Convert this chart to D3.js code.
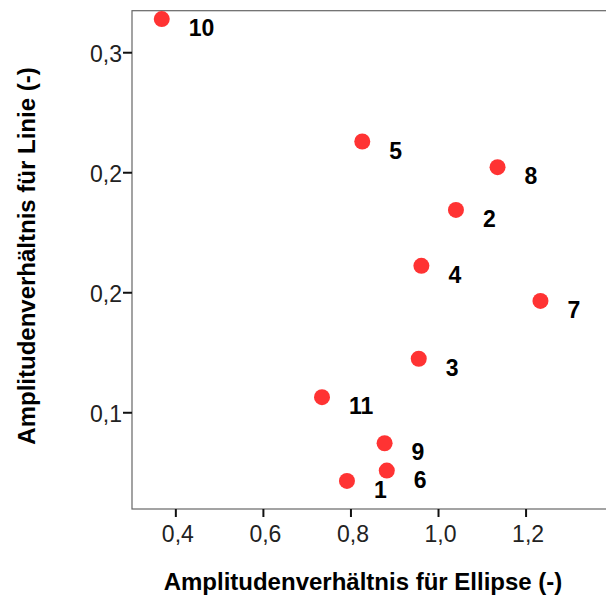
<!DOCTYPE html>
<html>
<head>
<meta charset="utf-8">
<script src="https://d3js.org/d3.v7.min.js"></script>
<style>
  html, body { margin: 0; padding: 0; background: #fff; }
  svg { display: block; }
</style>
</head>
<body>
<div id="chart"></div>
<script>
// Data ----------------------------------------------------------------------->

// Point ids and their values
const ids      = ['1', '2', '3', '4', '5', '6', '7', '8', '9', '10', '11'];
const ellipse  = [0.792, 1.041, 0.956, 0.962, 0.827, 0.883, 1.234, 1.136, 0.878, 0.369, 0.735];
const linie    = [0.0714, 0.1843, 0.1223, 0.1610, 0.2128, 0.0757, 0.1464, 0.2021, 0.0871, 0.2638, 0.1063];

// Axis ticks (the y labels are rounded to one decimal, hence the doubled 0,2)
const xTicks      = [0.4, 0.6, 0.8, 1.0, 1.2];
const xTickLabels = ['0,4', '0,6', '0,8', '1,0', '1,2'];
const yTicks      = [0.1, 0.15, 0.2, 0.25];
const yTickLabels = ['0,1', '0,2', '0,2', '0,3'];

const xTitle = 'Amplitudenverhältnis für Ellipse (-)';
const yTitle = 'Amplitudenverhältnis für Linie (-)';

// Setup ---------------------------------------------------------------------->

const width = 606, height = 599;
const plot_left = 132, plot_right = 607, plot_top = 10.7, plot_bottom = 509;
const font = '"Liberation Sans", Arial, sans-serif';

const svg = d3.select('#chart')
  .append('svg')
    .attr('width', width)
    .attr('height', height);

const x = d3.scaleLinear().domain([0.301, 1.386]).range([plot_left, plot_right]);
const y = d3.scaleLinear().domain([0.0597, 0.2673]).range([plot_bottom, plot_top]);

const points = ids.map((id, i) => ({ id: id, x: ellipse[i], y: linie[i] }));

// Frame ---------------------------------------------------------------------->

svg.append('rect')
  .attr('x', plot_left)
  .attr('y', plot_top)
  .attr('width', plot_right - plot_left)
  .attr('height', plot_bottom - plot_top)
  .attr('fill', 'none')
  .attr('stroke', '#666')
  .attr('stroke-width', 1.2);

// Axes ----------------------------------------------------------------------->

const xAxis = d3.axisBottom(x)
  .tickValues(xTicks)
  .tickSize(8)
  .tickPadding(10)
  .tickFormat((d, i) => xTickLabels[i]);

const yAxis = d3.axisLeft(y)
  .tickValues(yTicks)
  .tickSize(9)
  .tickPadding(1)
  .tickFormat((d, i) => yTickLabels[i]);

const gx = svg.append('g')
  .attr('transform', `translate(0,${plot_bottom})`)
  .call(xAxis);
gx.select('.domain').remove();
gx.selectAll('.tick line').attr('stroke', '#111').attr('stroke-width', 2);
gx.selectAll('.tick text')
  .attr('dx', 2)
  .attr('y', 33)
  .attr('dy', 0)
  .style('font', `23px ${font}`)
  .attr('fill', '#222');

const gy = svg.append('g')
  .attr('transform', `translate(${plot_left},0)`)
  .call(yAxis);
gy.select('.domain').remove();
gy.selectAll('.tick line').attr('stroke', '#111').attr('stroke-width', 2);
gy.selectAll('.tick text')
  .attr('dy', 9)
  .style('font', `23px ${font}`)
  .attr('fill', '#222');

// Axis titles
svg.append('text')
  .attr('x', 363)
  .attr('y', 590)
  .attr('text-anchor', 'middle')
  .style('font', `bold 24px ${font}`)
  .attr('fill', '#000')
  .text(xTitle);

svg.append('text')
  .attr('transform', 'translate(35,256) rotate(-90)')
  .attr('text-anchor', 'middle')
  .style('font', `bold 24px ${font}`)
  .attr('fill', '#000')
  .text(yTitle);

// Points and labels ---------------------------------------------------------->

svg.append('g')
  .selectAll('circle')
  .data(points)
  .join('circle')
    .attr('cx', d => x(d.x))
    .attr('cy', d => y(d.y))
    .attr('r', 8)
    .attr('fill', '#ff3333');

svg.append('g')
  .selectAll('text')
  .data(points)
  .join('text')
    .attr('x', d => x(d.x) + 27)
    .attr('y', d => y(d.y) + 17)
    .style('font', `bold 23px ${font}`)
    .attr('fill', '#000')
    .text(d => d.id);
</script>
</body>
</html>
